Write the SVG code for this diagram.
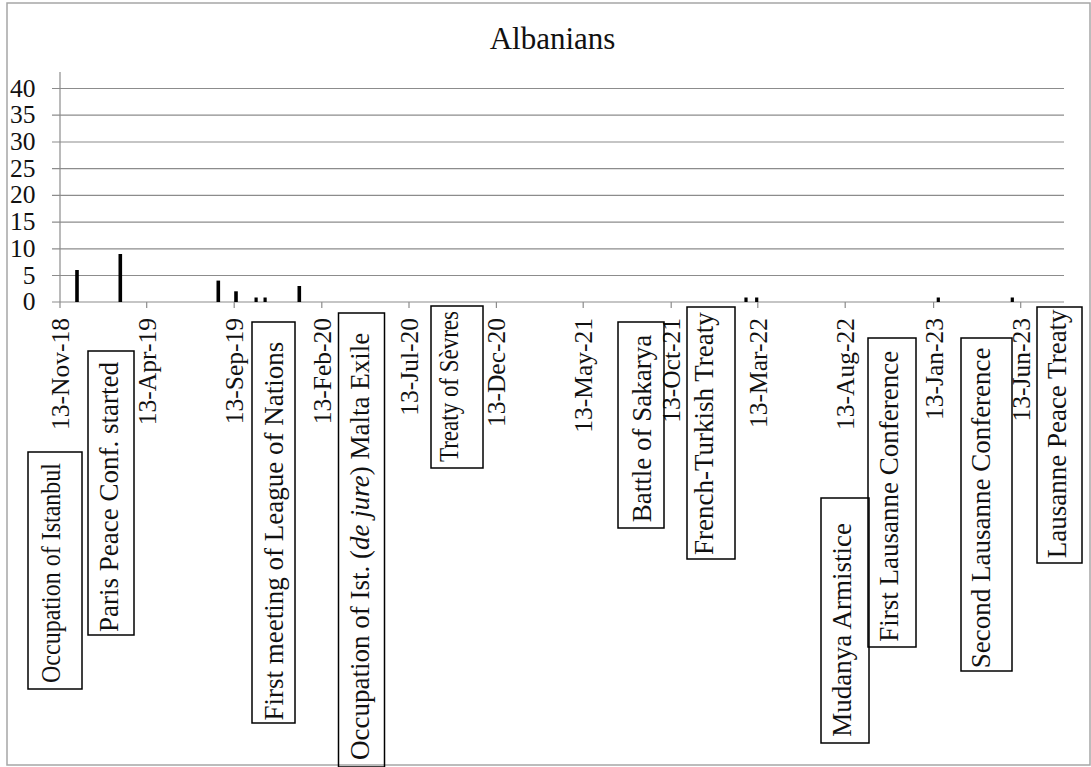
<svg xmlns="http://www.w3.org/2000/svg" width="1091" height="767" viewBox="0 0 1091 767">
<style>
.frame{fill:#fff;stroke:#a6a6a6;stroke-width:1.5}
.grid{stroke:#8c8c8c;stroke-width:1.2;fill:none}
.tick{stroke:#8c8c8c;stroke-width:1.2}
.bar{fill:#000}
.ylab{font-family:"Liberation Serif","Times New Roman",serif;font-size:25.5px;fill:#111;text-anchor:end}
.xlab{font-family:"Liberation Serif","Times New Roman",serif;font-size:25.5px;fill:#111;text-anchor:end}
.title{font-family:"Liberation Serif","Times New Roman",serif;font-size:31px;fill:#111;text-anchor:middle}
.box{fill:none;stroke:#000;stroke-width:1.5}
.lbl{font-family:"Liberation Serif","Times New Roman",serif;font-size:27px;fill:#111}
</style>
<rect class="frame" x="7" y="3" width="1083" height="762"/>
<text class="title" x="552.5" y="49">Albanians</text>
<g id="axes">
<line class="grid" x1="52" y1="88.5" x2="1064" y2="88.5"/>
<line class="grid" x1="52" y1="115.2" x2="1064" y2="115.2"/>
<line class="grid" x1="52" y1="142" x2="1064" y2="142"/>
<line class="grid" x1="52" y1="168.7" x2="1064" y2="168.7"/>
<line class="grid" x1="52" y1="195.4" x2="1064" y2="195.4"/>
<line class="grid" x1="52" y1="222.1" x2="1064" y2="222.1"/>
<line class="grid" x1="52" y1="248.9" x2="1064" y2="248.9"/>
<line class="grid" x1="52" y1="275.5" x2="1064" y2="275.5"/>
<line class="grid" x1="52" y1="302" x2="1064" y2="302"/>
<line class="grid" x1="60" y1="72" x2="60" y2="308"/>
<line class="tick" x1="146.7" y1="302" x2="146.7" y2="308"/>
<line class="tick" x1="234.2" y1="302" x2="234.2" y2="308"/>
<line class="tick" x1="321.8" y1="302" x2="321.8" y2="308"/>
<line class="tick" x1="409" y1="302" x2="409" y2="308"/>
<line class="tick" x1="496.4" y1="302" x2="496.4" y2="308"/>
<line class="tick" x1="583.2" y1="302" x2="583.2" y2="308"/>
<line class="tick" x1="671.2" y1="302" x2="671.2" y2="308"/>
<line class="tick" x1="757.8" y1="302" x2="757.8" y2="308"/>
<line class="tick" x1="845.2" y1="302" x2="845.2" y2="308"/>
<line class="tick" x1="933.6" y1="302" x2="933.6" y2="308"/>
<line class="tick" x1="1020.7" y1="302" x2="1020.7" y2="308"/>
</g>
<g id="y-labels">
<text class="ylab" x="35.5" y="96.5">40</text>
<text class="ylab" x="35.5" y="123.2">35</text>
<text class="ylab" x="35.5" y="150">30</text>
<text class="ylab" x="35.5" y="176.7">25</text>
<text class="ylab" x="35.5" y="203.4">20</text>
<text class="ylab" x="35.5" y="230.1">15</text>
<text class="ylab" x="35.5" y="256.9">10</text>
<text class="ylab" x="35.5" y="283.5">5</text>
<text class="ylab" x="35.5" y="310">0</text>
</g>
<g id="x-labels">
<text class="xlab" transform="translate(69,318) rotate(-90)">13-Nov-18</text>
<text class="xlab" transform="translate(155.7,318) rotate(-90)">13-Apr-19</text>
<text class="xlab" transform="translate(243.2,318) rotate(-90)">13-Sep-19</text>
<text class="xlab" transform="translate(330.8,318) rotate(-90)">13-Feb-20</text>
<text class="xlab" transform="translate(418,318) rotate(-90)">13-Jul-20</text>
<text class="xlab" transform="translate(505.4,318) rotate(-90)">13-Dec-20</text>
<text class="xlab" transform="translate(592.2,318) rotate(-90)">13-May-21</text>
<text class="xlab" transform="translate(680.2,318) rotate(-90)">13-Oct-21</text>
<text class="xlab" transform="translate(766.8,318) rotate(-90)">13-Mar-22</text>
<text class="xlab" transform="translate(854.2,318) rotate(-90)">13-Aug-22</text>
<text class="xlab" transform="translate(942.6,318) rotate(-90)">13-Jan-23</text>
<text class="xlab" transform="translate(1029.7,318) rotate(-90)">13-Jun-23</text>
</g>
<g id="bars">
<rect class="bar" x="75.2" y="270" width="3.6" height="32"/>
<rect class="bar" x="118.5" y="254" width="3.6" height="48"/>
<rect class="bar" x="216.5" y="280.6" width="3.6" height="21.4"/>
<rect class="bar" x="234.2" y="291.3" width="3.6" height="10.7"/>
<rect class="bar" x="254.5" y="297.5" width="3.2" height="4.5"/>
<rect class="bar" x="263.5" y="297.5" width="3.2" height="4.5"/>
<rect class="bar" x="297.5" y="286" width="3.6" height="16"/>
<rect class="bar" x="744.4" y="297.5" width="3.2" height="4.5"/>
<rect class="bar" x="755.1" y="297.5" width="3.2" height="4.5"/>
<rect class="bar" x="936.7" y="297.5" width="3.2" height="4.5"/>
<rect class="bar" x="1010.7" y="297.5" width="3.2" height="4.5"/>
</g>
<g id="ev-occupation-istanbul">
<rect class="box" x="28" y="452" width="54" height="237"/>
<text class="lbl" textLength="220" lengthAdjust="spacingAndGlyphs" transform="translate(60,683) rotate(-90)">Occupation of Istanbul</text>
</g>
<g id="ev-paris-peace">
<rect class="box" x="88" y="351" width="46" height="284"/>
<text class="lbl" transform="translate(118,632) rotate(-90)">Paris Peace Conf. started</text>
</g>
<g id="ev-league-of-nations">
<rect class="box" x="252" y="322" width="43" height="401"/>
<text class="lbl" transform="translate(283,720.5) rotate(-90)">First meeting of League of Nations</text>
</g>
<g id="ev-malta-exile">
<rect class="box" x="338.5" y="313" width="46" height="454"/>
<text class="lbl" transform="translate(368.5,760) rotate(-90)">Occupation of Ist. (<tspan font-style="italic">de jure</tspan>) Malta Exile</text>
</g>
<g id="ev-sevres">
<rect class="box" x="431" y="306" width="52" height="162"/>
<text class="lbl" textLength="151" lengthAdjust="spacingAndGlyphs" transform="translate(458,462) rotate(-90)">Treaty of Sèvres</text>
</g>
<g id="ev-sakarya">
<rect class="box" x="618" y="322" width="46" height="206"/>
<text class="lbl" transform="translate(651,522.3) rotate(-90)">Battle of Sakarya</text>
</g>
<g id="ev-french-turkish">
<rect class="box" x="687" y="307" width="48" height="252"/>
<text class="lbl" transform="translate(713,555) rotate(-90)">French-Turkish Treaty</text>
</g>
<g id="ev-mudanya">
<rect class="box" x="821" y="498" width="48" height="245"/>
<text class="lbl" transform="translate(851,736.7) rotate(-90)">Mudanya Armistice</text>
</g>
<g id="ev-first-lausanne">
<rect class="box" x="868" y="338" width="48" height="309"/>
<text class="lbl" transform="translate(898,641.7) rotate(-90)">First Lausanne Conference</text>
</g>
<g id="ev-second-lausanne">
<rect class="box" x="961" y="338" width="51" height="333"/>
<text class="lbl" transform="translate(990,668.3) rotate(-90)">Second Lausanne Conference</text>
</g>
<g id="ev-lausanne-peace">
<rect class="box" x="1037" y="307" width="45" height="256"/>
<text class="lbl" transform="translate(1066,558.3) rotate(-90)">Lausanne Peace Treaty</text>
</g>
<g id="connectors"/>
</svg>
